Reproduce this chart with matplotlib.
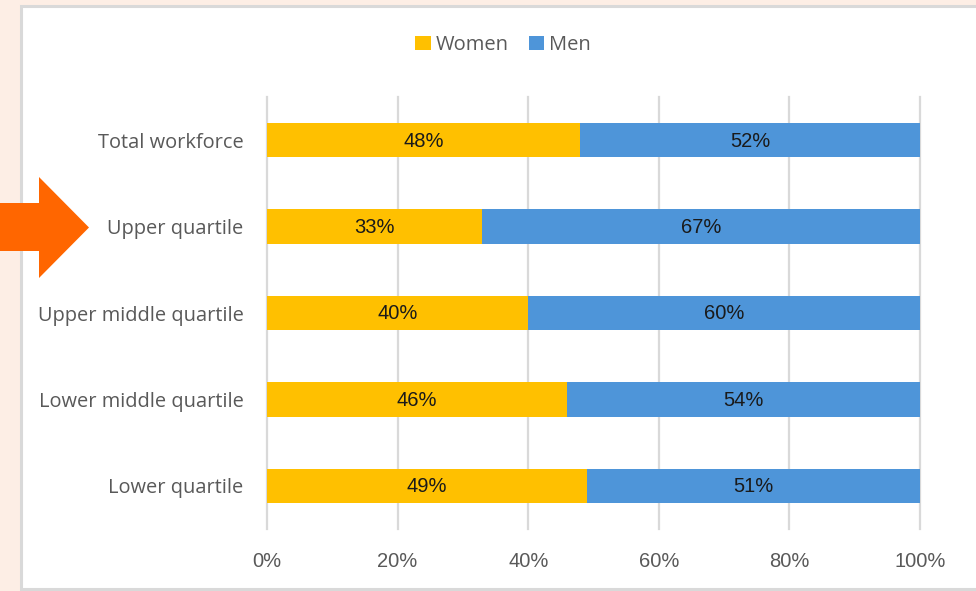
import matplotlib
matplotlib.use("Agg")
import matplotlib.pyplot as plt
from matplotlib.patches import Rectangle, Polygon

categories = ["Total workforce", "Upper quartile", "Upper middle quartile",
              "Lower middle quartile", "Lower quartile"]
women = [48, 33, 40, 46, 49]
men = [52, 67, 60, 54, 51]
xticks = [0, 20, 40, 60, 80, 100]
xtick_labels = ["0%", "20%", "40%", "60%", "80%", "100%"]

W, H = 976, 591
fig = plt.figure(figsize=(W / 100, H / 100), dpi=100)
fig.patch.set_facecolor("#FDEEE5")

# white panel with grey border
panel = Rectangle((20.5 / W, 1 - 589 / H), 1.0, (589 - 5.5) / H,
                  transform=fig.transFigure, facecolor="white",
                  edgecolor="#D9D9D9", linewidth=2.2, zorder=-1)
fig.patches.append(panel)

ax = fig.add_axes([267 / W, 1 - 529 / H, (920 - 267) / W, (529 - 97) / H])
ax.set_zorder(2)
ax.set_facecolor("none")

y = list(range(len(categories)))
c_w = "#FFC000"
c_m = "#4E95D9"
ax.barh(y, women, height=0.4, color=c_w, label="Women", zorder=3)
ax.barh(y, men, left=women, height=0.4, color=c_m, label="Men", zorder=3)

for i in range(len(categories)):
    ax.text(women[i] / 2, i + 0.01, f"{women[i]}%", ha="center", va="center",
            fontsize=14.5, color="#1a1a1a", family="Liberation Sans", zorder=4)
    ax.text(women[i] + men[i] / 2, i + 0.01, f"{men[i]}%", ha="center", va="center",
            fontsize=14.5, color="#1a1a1a", family="Liberation Sans", zorder=4)

ax.set_xlim(0, 100)
ax.set_ylim(len(categories) - 0.5, -0.5)
ax.set_yticks(y)
ax.set_yticklabels(categories, fontsize=14.4, color="#595959", family="Open Sans")
ax.set_xticks(xticks)
ax.set_xticklabels(xtick_labels, fontsize=14.5, color="#595959", family="Liberation Sans")
ax.tick_params(axis="y", length=0, pad=17)
ax.tick_params(axis="x", length=0, pad=16.5)
ax.grid(axis="x", color="#D9D9D9", linewidth=1.6, zorder=1)
for gl in ax.get_xgridlines():
    gl.set_clip_on(False)
for s in ax.spines.values():
    s.set_visible(False)

leg = fig.legend(loc="center", bbox_to_anchor=(503 / W, 1 - 45 / H), ncol=2,
                 frameon=False, handlelength=0.75, handleheight=0.75,
                 handletextpad=0.25, columnspacing=1.0,
                 prop={"family": "Open Sans", "size": 14.5})
leg.set_zorder(3)
for t in leg.get_texts():
    t.set_color("#595959")

# orange arrow
pts = [(0, 203), (39, 203), (39, 177), (89, 227.5), (39, 278), (39, 251), (0, 251)]
arrow = Polygon([(px / W, 1 - py / H) for px, py in pts], closed=True,
                transform=fig.transFigure, facecolor="#FF6600", edgecolor="none",
                zorder=5)
fig.patches.append(arrow)

fig.savefig("out.png", dpi=100, facecolor=fig.get_facecolor())
